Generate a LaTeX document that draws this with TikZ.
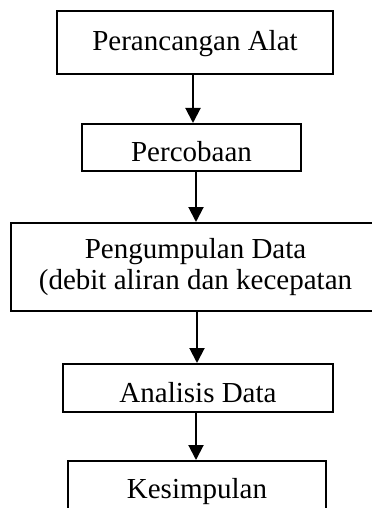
\documentclass[tikz,border=0pt]{standalone}
\usepackage{fontspec}
\setmainfont{Liberation Serif}
\usepackage{xcolor}
\usetikzlibrary{arrows.meta,positioning}
\definecolor{ink}{HTML}{000000}
\tikzset{
  stepbox/.style={draw=ink,line width=1pt,fill=white,inner sep=0pt,align=center,font=\fontsize{14.5pt}{15.5pt}\selectfont,text=ink},
  flow/.style={-{Triangle[width=7.5pt,length=7.5pt]},line width=1pt,draw=ink}
}
\begin{document}
\begin{tikzpicture}[x=0.5pt,y=-0.5pt]
    \useasboundingbox (0,0) rectangle (371,508);
    \node[stepbox,minimum width=138pt,minimum height=31.5pt,text height=7.6pt,text depth=0pt] (design) at (195,42.5) {Perancangan Alat};
    \node[stepbox,minimum width=109.5pt,minimum height=23.5pt,text height=14.1pt,text depth=0pt] (trial) at (191.5,147.5) {Percobaan};
    \node[stepbox,minimum width=184.5pt,minimum height=44pt] (collect) at (195.5,267) {Pengumpulan Data\\(debit aliran dan kecepatan};
    \node[stepbox,minimum width=135pt,minimum height=24pt,text height=14.1pt,text depth=0pt] (analysis) at (198,388) {Analisis Data};
    \node[stepbox,minimum width=129pt,minimum height=26pt,text height=11.1pt,text depth=0pt] (conclude) at (197,487) {Kesimpulan};

    \draw[flow] ([xshift=-1pt]design.south) -- ([xshift=-1pt]design.south |- trial.north);
    \draw[flow] ([xshift=2.25pt]trial.south) -- ([xshift=2.25pt]trial.south |- collect.north);
    \draw[flow] ([xshift=0.75pt]collect.south) -- ([xshift=0.75pt]collect.south |- analysis.north);
    \draw[flow] ([xshift=-1pt]analysis.south) -- ([xshift=-1pt]analysis.south |- conclude.north);
\end{tikzpicture}
\end{document}
